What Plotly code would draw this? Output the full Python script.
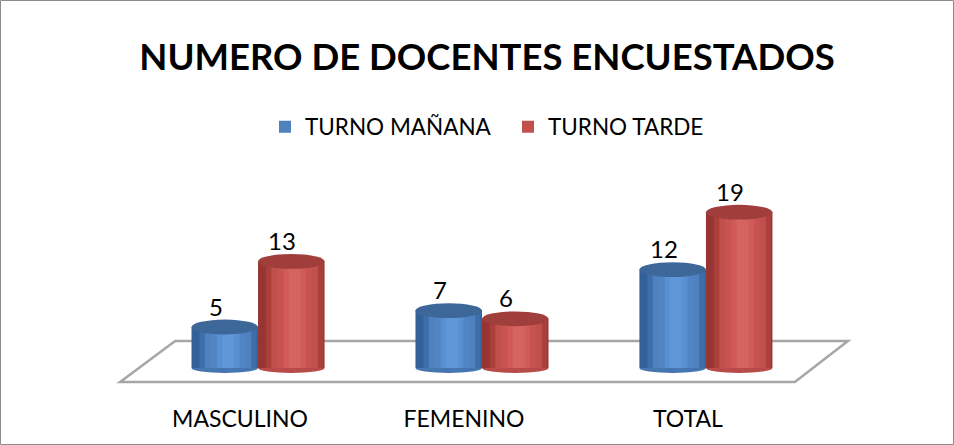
import plotly.graph_objects as go

# ---- data ----
categories = ["MASCULINO", "FEMENINO", "TOTAL"]
turno_manana = [5, 7, 12]
turno_tarde = [13, 6, 19]
series_names = ["TURNO MAÑANA", "TURNO TARDE"]

# ---- styling ----
FONT = "Lato"
W = 0.297            # width of one cylinder (category units)
TOP_H = 0.9          # half height of top ellipse (y units)
BOT_H = 0.6          # half height of bottom ellipse
HL = 0.55            # horizontal position of highlight inside cylinder

blue_grad = ["#34609a", "#3d6eab", "#4f81bd", "#4f84c6", "#5890d2", "#5f97d8"]
red_grad = ["#963533", "#ab3f3c", "#c0504d", "#c85350", "#d05b58", "#d56461"]
fracs = [1.0, 0.86, 0.70, 0.52, 0.34, 0.18]
tops = ["#3d6699", "#a03e3b"]
bottoms = ["#4676b0", "#b84a47"]

series = [
    (series_names[0], turno_manana, -W, blue_grad),
    (series_names[1], turno_tarde, 0.0, red_grad),
]

xs = list(range(len(categories)))
fig = go.Figure()
shapes = []
annotations = []

# floor (decoration)
shapes.append(dict(
    type="path", xref="x", yref="y", layer="below",
    path="M -0.616,-1.71 L 2.397,-1.71 L 2.634,3.29 L -0.37,3.29 Z",
    line=dict(color="#a6a6a6", width=2.5), fillcolor="rgba(255,255,255,0)",
))

for si, (name, vals, off, grad) in enumerate(series):
    for li, (f, col) in enumerate(zip(fracs, grad)):
        start = off if f == 1.0 else off + (HL - f / 2) * W
        fig.add_trace(go.Bar(
            x=xs, y=vals, offset=start, width=f * W,
            marker=dict(color=col, line=dict(width=0)),
            name=name, showlegend=(col in ("#4f81bd", "#c0504d")),
            legendgroup=name, hoverinfo="skip",
        ))
    for x, v in zip(xs, vals):
        x0 = x + off
        x1 = x + off + W
        # bottom ellipse
        shapes.append(dict(type="circle", xref="x", yref="y", layer="below",
                           x0=x0, x1=x1, y0=-BOT_H, y1=BOT_H,
                           fillcolor=bottoms[si], line=dict(width=0)))
        # top ellipse
        shapes.append(dict(type="circle", xref="x", yref="y", layer="above",
                           x0=x0, x1=x1, y0=v - TOP_H, y1=v + TOP_H,
                           fillcolor=tops[si], line=dict(width=0)))
        annotations.append(dict(
            x=x0 + W / 2, y=v, xref="x", yref="y", text=str(v),
            showarrow=False, yanchor="middle", yshift=21, xshift=-9,
            font=dict(family=FONT, size=24, color="#000000"),
        ))

# outer border
PW, PH = 748, 223
L, R, T, B = 110, 96, 165, 57
shapes.append(dict(type="rect", xref="paper", yref="paper", layer="above",
                   x0=-(L - 0.5) / PW, x1=1 + (R - 0.5) / PW,
                   y0=-(B - 0.5) / PH, y1=1 + (T - 0.5) / PH,
                   line=dict(color="#8c8c8c", width=1)))

fig.update_layout(
    width=954, height=445,
    margin=dict(l=L, r=R, t=T, b=B),
    paper_bgcolor="white", plot_bgcolor="rgba(0,0,0,0)",
    barmode="overlay",
    title=dict(text="<b>NUMERO DE DOCENTES ENCUESTADOS</b>",
               x=487 / 954, xanchor="center", xref="container",
               y=1 - 57 / 445, yanchor="middle", yref="container",
               font=dict(family=FONT, size=36.5, color="#000000")),
    legend=dict(orientation="h", x=265 / 954, xanchor="left", xref="container",
                y=1 - 127 / 445, yanchor="middle", yref="container",
                font=dict(family=FONT, size=22.5, color="#000000"),
                traceorder="normal", itemclick=False, itemwidth=30,
                entrywidth=198),
    font=dict(family=FONT, color="#000000"),
    shapes=shapes, annotations=annotations,
    showlegend=True,
)
fig.update_xaxes(range=[-0.661, 2.679], tickmode="array", tickvals=xs,
                 ticktext=categories, showgrid=False, zeroline=False,
                 showline=False, ticks="", ticklabelstandoff=15,
                 ticklabelshift=-18,
                 tickfont=dict(family=FONT, size=23, color="#000000"))
fig.update_yaxes(range=[-2.44, 24.76], visible=False, showgrid=False,
                 zeroline=False)

fig.write_html("out.html", config={"displayModeBar": False},
               post_script="document.body.style.margin='0px';"
                           "document.body.style.overflow='hidden';")
